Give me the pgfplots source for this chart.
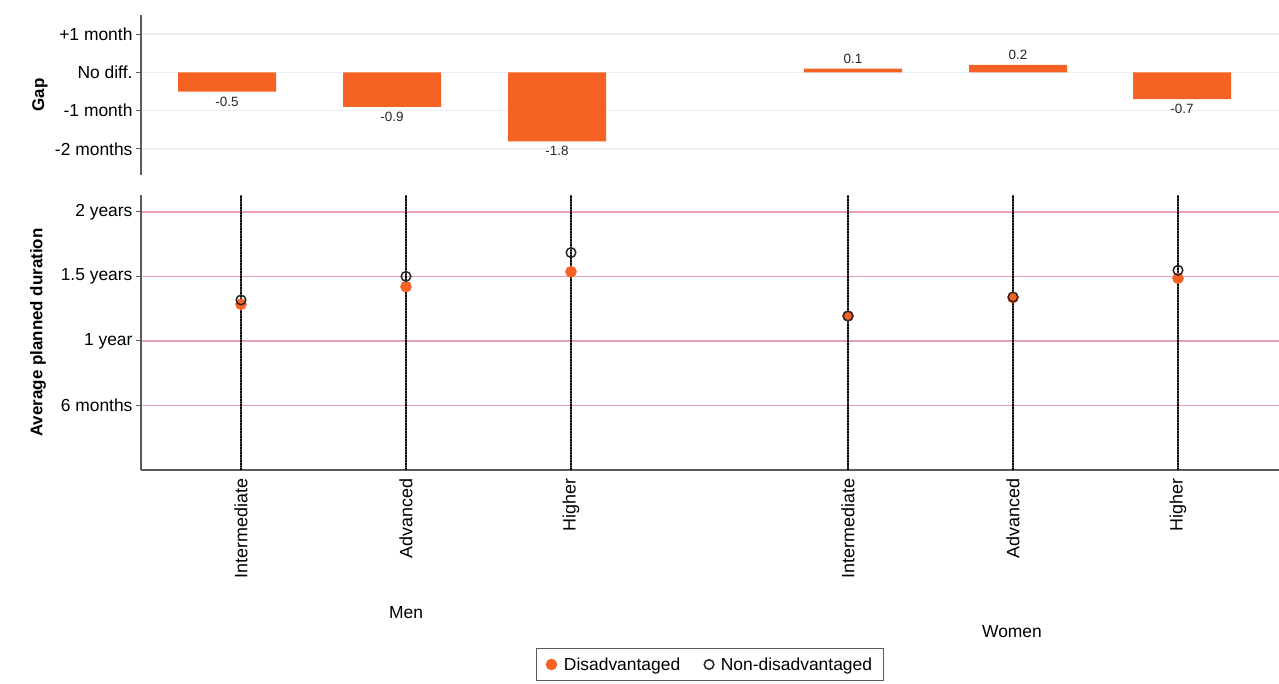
\documentclass[border=0pt]{standalone}
\usepackage{pgfplots}
\pgfplotsset{compat=1.18}
\usepackage{fontspec}
\setmainfont{Liberation Sans}
\definecolor{barorange}{RGB}{246,98,36}
\definecolor{gridblue}{RGB}{232,239,244}
\definecolor{gridpink}{RGB}{232,160,182}
\definecolor{axgray}{RGB}{90,90,90}
\begin{document}
\begin{tikzpicture}[x=1bp,y=1bp]
\path[use as bounding box] (0,0) rectangle (1279,-684);
% ---------- top panel: gap ----------
\begin{axis}[
  at={(141bp,-175bp)}, anchor=south west,
  scale only axis, width=1138bp, height=160bp,
  xmin=141, xmax=1279, ymin=-2.68, ymax=1.5,
  axis x line=none, axis y line*=left,
  axis line style={axgray, line width=1.2bp},
  ytick={-2,-1,0,1},
  yticklabels={-2 months,-1 month,No diff.,+1 month},
  tick align=outside, major tick length=5bp,
  y tick style={axgray, line width=1bp},
  yticklabel style={font=\fontsize{17.5}{17.5}\selectfont, black},
  ymajorgrids, grid style={gridblue, line width=1.6bp},
  ylabel={\textbf{Gap}},
  every axis y label/.style={at={(rel axis cs:0,0.5)}, xshift=-101bp, rotate=90, anchor=center, font=\fontsize{17}{17}\selectfont},
  clip=false,
]
\addplot[ybar, bar shift=0pt, fill=barorange, draw=none, bar width=98,
  point meta=explicit symbolic,
  nodes near coords, nodes near coords style={anchor=north, font=\fontsize{13.5}{13.5}\selectfont, text=black!85, inner sep=5bp}]
  coordinates {(227,-0.5) [-0.5] (392,-0.9) [-0.9] (557,-1.8) [-1.8] (1182,-0.7) [-0.7]};
\addplot[ybar, bar shift=0pt, fill=barorange, draw=none, bar width=98,
  point meta=explicit symbolic,
  nodes near coords, nodes near coords style={anchor=south, font=\fontsize{13.5}{13.5}\selectfont, text=black!85, inner sep=5bp}]
  coordinates {(853,0.1) [0.1] (1018,0.2) [0.2]};
\end{axis}
% ---------- bottom panel ----------
\begin{axis}[
  at={(141bp,-470bp)}, anchor=south west,
  scale only axis, width=1138bp, height=275bp,
  xmin=141, xmax=1279, ymin=0, ymax=2.13,
  axis x line*=bottom, axis y line*=left,
  axis line style={axgray, line width=1.4bp},
  ytick={0.5,1,1.5,2},
  yticklabels={6 months,1 year,1.5 years,2 years},
  xtick={241,406,571,848,1013,1178},
  xticklabels={Intermediate,Advanced,Higher,Intermediate,Advanced,Higher},
  xticklabel style={rotate=90, anchor=east, font=\fontsize{18}{18}\selectfont, black},
  x tick style={draw=none},
  tick align=outside, major tick length=5bp,
  y tick style={axgray, line width=1bp},
  yticklabel style={font=\fontsize{17.5}{17.5}\selectfont, black},
  ymajorgrids, grid style={gridpink, line width=1.6bp},
  ylabel={\textbf{Average planned duration}},
  every axis y label/.style={at={(rel axis cs:0,0.5)}, xshift=-103bp, rotate=90, anchor=center, font=\fontsize{17}{17}\selectfont},
  clip=false,
  legend columns=2,
  legend style={at={(0.5,-0.647)}, anchor=north, draw=axgray, line width=1bp,
    font=\fontsize{17.5}{17.5}\selectfont, inner ysep=7bp, inner xsep=9bp,
    /tikz/every even column/.append style={column sep=22bp}},
  legend cell align=left,
]
% vertical dotted lines
\foreach \xx in {241,406,571,848,1013,1178} {
  \edef\tmp{\noexpand\addplot[forget plot, black!65, line width=2.6bp] coordinates {(\xx,0) (\xx,2.13)};}\tmp
  \edef\tmp{\noexpand\addplot[forget plot, black, line width=2.6bp, dash pattern=on 0.8bp off 0.8bp] coordinates {(\xx,0) (\xx,2.13)};}\tmp
}
\addplot[only marks, mark=*, mark size=5.5bp, mark options={fill=barorange, draw=barorange, line width=0.5bp}]
  coordinates {(241,1.284) (406,1.42) (571,1.536) (848,1.193) (1013,1.335) (1178,1.485)};
\addlegendentry{\hspace{5bp}Disadvantaged}
\addplot[only marks, mark=o, mark size=4.8bp, mark options={draw=black!85, line width=1.5bp}]
  coordinates {(241,1.317) (406,1.50) (571,1.684) (848,1.193) (1013,1.34) (1178,1.547)};
\addlegendentry{\hspace{5bp}Non-disadvantaged}
\node[font=\fontsize{17.5}{17.5}\selectfont] at (axis cs:406,0) [yshift=-143bp] {Men};
\node[font=\fontsize{17.5}{17.5}\selectfont] at (axis cs:1012,0) [yshift=-162bp] {Women};
\end{axis}
\end{tikzpicture}
\end{document}
